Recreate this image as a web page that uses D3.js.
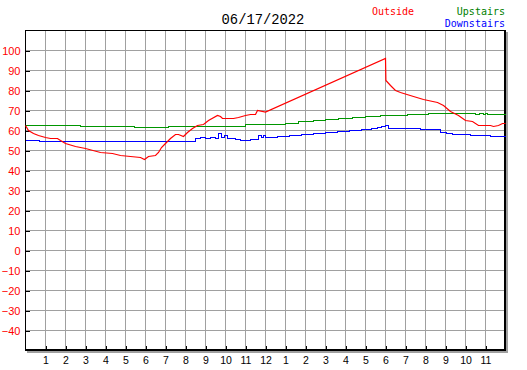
<!DOCTYPE html>
<html>
<head>
<meta charset="utf-8">
<script src="https://cdn.jsdelivr.net/npm/d3@7"></script>
<style>
  body { margin: 0; background: #ffffff; }
  svg { display: block; }
</style>
</head>
<body>
<script>

// Date shown above the chart
var chartDate = "06/17/2022";

// Outside temperature, hours since midnight and degrees
var outsideHours = [0, 0.15, 0.4, 0.65, 1.0, 1.25, 1.6, 1.75, 2.0, 2.5, 3.0, 3.75, 4.35, 4.75, 5.25, 5.75, 5.95,
                    6.15, 6.5, 6.65, 6.8, 7.0, 7.25, 7.5, 7.65, 7.9, 8.1, 8.35, 8.6, 8.9, 9.15, 9.6, 9.75, 9.85,
                    10.4, 10.65, 11.0, 11.25, 11.5, 11.6, 12.0, 18.0, 18.02, 18.25, 18.5, 18.75, 19.4, 19.9,
                    20.6, 20.9, 21.25, 21.65, 22.0, 22.35, 22.65, 23.25, 23.4, 23.65, 23.85, 24.0];
var outsideTemps = [62.5, 60, 58.5, 57.5, 56.5, 56, 56, 55, 53.5, 52, 51, 49, 48.5, 47.5, 47, 46.5, 45.5,
                    47, 47.5, 49, 51.5, 53.5, 56, 58, 58, 57, 59, 61, 62.5, 63, 65, 67.5, 67, 66,
                    66, 66.5, 67.5, 68, 68, 70, 69.2, 96, 85, 82.5, 80, 79, 77, 75.5,
                    74, 72.5, 69.5, 67.5, 65, 64.5, 62.5, 62.5, 62, 62.5, 63.5, 63.5];

// Upstairs temperature
var upstairsHours = [0, 2.75, 5.45, 7.15, 11.0, 13.0, 13.65, 14.4, 15.0, 15.65, 16.35, 17.0, 17.75,
                     19.1, 20.15, 22.5, 22.7, 22.9, 23.0, 23.1, 24.0];
var upstairsTemps = [62.5, 62, 61.5, 62, 63, 63.5, 64.5, 65, 65.5, 66, 66.5, 67, 67.5,
                     68, 68.5, 68, 68.5, 68, 68.5, 68, 68];

// Downstairs temperature
var downstairsHours = [0, 0.7, 1.0, 8.5, 8.75, 9.0, 9.25, 9.5, 9.65, 9.8, 9.95, 10.1, 10.5, 10.75, 11.25,
                       11.5, 11.65, 11.8, 11.9, 12.0, 12.6, 13.2, 13.8, 14.4, 15.0, 15.6, 16.2, 16.8,
                       17.3, 17.6, 17.8, 18.0, 18.15, 19.75, 20.75, 21.05, 21.35, 22.25, 23.25, 24.0];
var downstairsTemps = [55, 54.5, 54.5, 56, 56.5, 56, 56.5, 56, 58.5, 56.5, 57.5, 56, 55.5, 55, 55.5,
                       55.5, 57.5, 56.5, 57.5, 56.5, 57, 57.5, 58, 58.5, 59, 59.5, 60, 60.5,
                       61, 61.5, 62, 62.5, 61, 60.5, 59, 58.5, 58, 57.5, 57, 57];

// Tick values and labels
var yTicks = [-40, -30, -20, -10, 0, 10, 20, 30, 40, 50, 60, 70, 80, 90, 100];
var xTicks = [1, 2, 3, 4, 5, 6, 7, 8, 9, 10, 11, 12, 13, 14, 15, 16, 17, 18, 19, 20, 21, 22, 23];
var xTickLabels = ["1", "2", "3", "4", "5", "6", "7", "8", "9", "10", "11", "12",
                   "1", "2", "3", "4", "5", "6", "7", "8", "9", "10", "11"];

drawChart();

function drawChart(){

  var w = 527;
  var h = 370;

  var svg = d3.select("body")
              .append("svg")
              .attr("width", w)
              .attr("height", h);

  // Plot area
  var left = 25, top = 30, right = 505, bottom = 350;

  var xScale = d3.scaleLinear()
                 .domain([0, 24])
                 .range([left, right]);

  var yScale = d3.scaleLinear()
                 .domain([-50, 110])
                 .range([bottom, top]);

  // Grid lines
  var grid = svg.append("g")
                .attr("stroke", "#a0a0a0")
                .attr("stroke-width", 1)
                .attr("shape-rendering", "crispEdges");

  grid.selectAll(".vgrid")
      .data(xTicks)
      .enter()
      .append("line")
      .attr("x1", d => xScale(d) + 0.5)
      .attr("x2", d => xScale(d) + 0.5)
      .attr("y1", top)
      .attr("y2", bottom);

  grid.selectAll(".hgrid")
      .data(yTicks)
      .enter()
      .append("line")
      .attr("x1", left)
      .attr("x2", right)
      .attr("y1", d => yScale(d) + 0.5)
      .attr("y2", d => yScale(d) + 0.5);

  // Shadow and frame
  svg.append("rect").attr("x", right + 1).attr("y", top + 2).attr("width", 2).attr("height", bottom - top + 1).attr("fill", "#a0a0a0");
  svg.append("rect").attr("x", left + 2).attr("y", bottom + 1).attr("width", right - left + 1).attr("height", 2).attr("fill", "#a0a0a0");
  svg.append("rect").attr("x", left).attr("y", top).attr("width", right - left + 1).attr("height", 1).attr("fill", "black");
  svg.append("rect").attr("x", left).attr("y", top).attr("width", 1).attr("height", bottom - top + 1).attr("fill", "black");
  svg.append("rect").attr("x", right - 1).attr("y", top).attr("width", 2).attr("height", bottom - top + 1).attr("fill", "black");
  svg.append("rect").attr("x", left).attr("y", bottom - 1).attr("width", right - left + 1).attr("height", 2).attr("fill", "black");

  // Axes
  var yAxis = d3.axisLeft(yScale)
                .tickValues(yTicks)
                .tickSize(-4)
                .tickPadding(5);

  var xAxis = d3.axisBottom(xScale)
                .tickValues(xTicks)
                .tickFormat((d, i) => xTickLabels[i])
                .tickSize(-4)
                .tickPadding(7);

  var yG = svg.append("g")
              .attr("transform", `translate(${left + 0.5}, 0.5)`)
              .call(yAxis);

  var xG = svg.append("g")
              .attr("transform", `translate(0.5, ${bottom - 0.5})`)
              .call(xAxis);

  yG.select(".domain").remove();
  xG.select(".domain").remove();

  yG.selectAll("line").attr("stroke", "black").attr("shape-rendering", "crispEdges");
  xG.selectAll("line").attr("stroke", "black").attr("shape-rendering", "crispEdges");

  yG.selectAll("text")
    .attr("fill", "#ff0000")
    .attr("font-family", "'Liberation Sans', Arial, sans-serif")
    .attr("font-size", "11px");

  xG.selectAll("text")
    .attr("fill", "black")
    .attr("font-family", "'Liberation Sans', Arial, sans-serif")
    .attr("font-size", "10.5px");

  // Temperature lines
  var series = [
    {hours: upstairsHours, temps: upstairsTemps, color: "#009600", curve: d3.curveStepAfter, crisp: true},
    {hours: downstairsHours, temps: downstairsTemps, color: "#0000ff", curve: d3.curveStepAfter, crisp: true},
    {hours: outsideHours, temps: outsideTemps, color: "#ff0000", curve: d3.curveLinear, crisp: false}
  ];

  series.forEach(function(s){
    var line = d3.line()
                 .x((d, i) => xScale(s.hours[i]) + 0.5)
                 .y(d => yScale(d) + 0.5)
                 .curve(s.curve);

    svg.append("path")
       .attr("d", line(s.temps))
       .attr("fill", "none")
       .attr("stroke", s.color)
       .attr("stroke-width", s.crisp ? 1.5 : 1.2)
       .attr("shape-rendering", s.crisp ? "crispEdges" : "auto");
  });

  // Title and legend
  svg.append("text")
     .attr("x", 263)
     .attr("y", 24)
     .attr("text-anchor", "middle")
     .attr("font-family", "'Liberation Mono', monospace")
     .attr("font-size", "13.8px")
     .text(chartDate);

  var legend = [
    {name: "Outside", color: "#ff0000", x: 393, y: 15, anchor: "middle"},
    {name: "Upstairs", color: "#008000", x: 505, y: 15, anchor: "end"},
    {name: "Downstairs", color: "#0000ff", x: 505, y: 27, anchor: "end"}
  ];

  svg.selectAll(".legend")
     .data(legend)
     .enter()
     .append("text")
     .attr("x", d => d.x)
     .attr("y", d => d.y)
     .attr("text-anchor", d => d.anchor)
     .attr("fill", d => d.color)
     .attr("font-family", "'DejaVu Sans Mono', monospace")
     .attr("font-size", "10px")
     .text(d => d.name);

};

</script>
</body>
</html>
